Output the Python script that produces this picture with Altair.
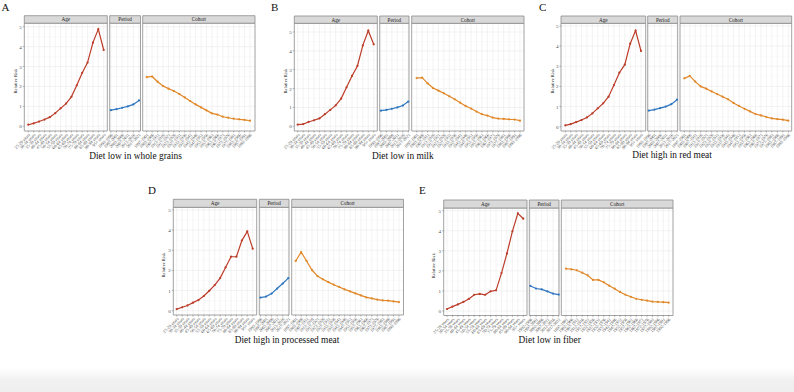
import altair as alt
import pandas as pd

# ---------------------------------------------------------------- categories
age_groups = [
    "25-29 years", "30-34 years", "35-39 years", "40-44 years", "45-49 years",
    "50-54 years", "55-59 years", "60-64 years", "65-69 years", "70-74 years",
    "75-79 years", "80-84 years", "85-89 years", "90-94 years", "95+ years",
]
periods = ["1992-1996", "1997-2001", "2002-2006", "2007-2011", "2012-2016", "2017-2021"]
cohorts = [
    "1897-1901", "1902-1906", "1907-1911", "1912-1916", "1917-1921",
    "1922-1926", "1927-1931", "1932-1936", "1937-1941", "1942-1946",
    "1947-1951", "1952-1956", "1957-1961", "1962-1966", "1967-1971",
    "1972-1976", "1977-1981", "1982-1986", "1987-1991", "1992-1996",
]

# ---------------------------------------------------------------- relative risks
whole_grains_age = [0.08, 0.15, 0.24, 0.34, 0.46, 0.66, 0.90, 1.14, 1.48, 2.06, 2.68, 3.20, 4.20, 4.88, 3.83]
whole_grains_period = [0.81, 0.86, 0.93, 1.00, 1.10, 1.30]
whole_grains_cohort = [2.47, 2.50, 2.24, 2.02, 1.89, 1.77, 1.62, 1.45, 1.27, 1.10,
                       0.95, 0.80, 0.65, 0.59, 0.48, 0.43, 0.38, 0.35, 0.32, 0.28]

milk_age = [0.09, 0.12, 0.23, 0.32, 0.42, 0.64, 0.87, 1.11, 1.47, 2.07, 2.67, 3.20, 4.29, 5.07, 4.35]
milk_period = [0.83, 0.87, 0.93, 1.00, 1.10, 1.31]
milk_cohort = [2.56, 2.58, 2.28, 2.03, 1.89, 1.75, 1.59, 1.43, 1.25, 1.08,
               0.94, 0.78, 0.64, 0.57, 0.46, 0.41, 0.39, 0.37, 0.36, 0.30]

red_meat_age = [0.07, 0.13, 0.23, 0.33, 0.46, 0.66, 0.91, 1.16, 1.49, 2.07, 2.68, 3.08, 4.12, 4.77, 3.76]
red_meat_period = [0.80, 0.85, 0.92, 1.00, 1.12, 1.34]
red_meat_cohort = [2.40, 2.52, 2.24, 2.00, 1.89, 1.75, 1.62, 1.49, 1.36, 1.18,
                   1.03, 0.89, 0.76, 0.63, 0.56, 0.48, 0.41, 0.38, 0.35, 0.30]

processed_meat_age = [0.08, 0.17, 0.26, 0.40, 0.53, 0.73, 0.99, 1.27, 1.62, 2.15, 2.68, 2.68, 3.48, 3.94, 3.08]
processed_meat_period = [0.65, 0.70, 0.85, 1.10, 1.35, 1.62]
processed_meat_cohort = [2.47, 2.91, 2.47, 2.02, 1.72, 1.56, 1.42, 1.29, 1.18, 1.06,
                         0.96, 0.86, 0.76, 0.66, 0.61, 0.55, 0.51, 0.50, 0.46, 0.43]

fiber_age = [0.10, 0.22, 0.33, 0.45, 0.60, 0.81, 0.85, 0.81, 0.98, 1.03, 1.89, 2.87, 3.97, 4.87, 4.60]
fiber_period = [1.25, 1.12, 1.08, 0.98, 0.87, 0.82]
fiber_cohort = [2.11, 2.08, 2.03, 1.91, 1.78, 1.55, 1.55, 1.43, 1.26, 1.11,
                0.95, 0.81, 0.71, 0.61, 0.56, 0.52, 0.47, 0.45, 0.44, 0.42]

y_ticks = [0, 1, 2, 3, 4, 5]
y_minor = [0.5, 1.5, 2.5, 3.5, 4.5]

# ---------------------------------------------------------------- styling
SERIF = "Liberation Serif"
COLORS = {"Age": "#BC3C29", "Period": "#2F77C0", "Cohort": "#E18727"}
BORDER = "#8c8c8c"
GRID = "#ebebeb"
GRID_MINOR = "#f4f4f4"

# Panel geometry of each small multiple (pixels on the 794 x 392 canvas).
# facet tuple: frame left, frame right, first category x, last category x
plots = [
    dict(letter="A", title="Diet low in whole grains",
         series=(whole_grains_age, whole_grains_period, whole_grains_cohort),
         Age=(24.3, 107.3, 28.3, 103.7), Period=(109.7, 140.5, 110.9, 139.0),
         Cohort=(142.7, 255.0, 146.7, 250.0), strip=(15.7, 23.2), bottom=131.0,
         y0=126.3, y5=26.7, ytitle_x=15.5, title_xy=(135.5, 159.3), letter_xy=(1.5, 11.0)),
    dict(letter="B", title="Diet low in milk",
         series=(milk_age, milk_period, milk_cohort),
         Age=(294.3, 377.3, 297.7, 373.7), Period=(379.7, 409.0, 380.9, 408.3),
         Cohort=(411.7, 524.0, 416.7, 520.0), strip=(16.0, 23.3), bottom=131.0,
         y0=126.3, y5=32.0, ytitle_x=285.5, title_xy=(402.8, 159.3), letter_xy=(271.0, 11.0)),
    dict(letter="C", title="Diet high in red meat",
         series=(red_meat_age, red_meat_period, red_meat_cohort),
         Age=(561.0, 645.7, 565.3, 641.0), Period=(647.7, 677.7, 648.8, 677.0),
         Cohort=(680.0, 791.7, 684.3, 788.3), strip=(16.0, 23.3), bottom=131.0,
         y0=126.7, y5=26.0, ytitle_x=552.5, title_xy=(672.0, 157.5), letter_xy=(539.0, 11.0)),
    dict(letter="D", title="Diet high in processed meat",
         series=(processed_meat_age, processed_meat_period, processed_meat_cohort),
         Age=(173.3, 256.7, 176.7, 252.7), Period=(259.3, 289.0, 260.4, 288.3),
         Cohort=(291.7, 403.5, 295.7, 399.0), strip=(199.3, 207.3), bottom=315.0,
         y0=310.7, y5=210.0, ytitle_x=164.0, title_xy=(287.0, 343.3), letter_xy=(148.0, 194.0)),
    dict(letter="E", title="Diet low in fiber",
         series=(fiber_age, fiber_period, fiber_cohort),
         Age=(443.7, 527.0, 447.0, 523.3), Period=(529.3, 559.0, 530.4, 558.7),
         Cohort=(561.3, 673.0, 566.0, 668.7), strip=(200.0, 208.0), bottom=315.5,
         y0=311.0, y5=210.7, ytitle_x=434.3, title_xy=(549.7, 343.3), letter_xy=(419.0, 194.0)),
]

facets = [("Age", age_groups), ("Period", periods), ("Cohort", cohorts)]

back, front = [], []
frame_rows, strip_rows, title_rows, letter_rows, ytitle_rows = [], [], [], [], []

major_df = pd.DataFrame({"v": y_ticks})
minor_df = pd.DataFrame({"v": y_minor})

for p in plots:
    y_scale = alt.Scale(domain=[0, 5], range=[p["y0"], p["y5"]], nice=False, zero=False)
    s_top, s_bot = p["strip"]
    bottom = p["bottom"]

    for (facet, labels), values in zip(facets, p["series"]):
        fx0, fx1, px0, px1 = p[facet]
        x_scale = alt.Scale(type="point", domain=labels, range=[px0, px1], padding=0)
        X = alt.X("label:N", scale=x_scale, axis=None)
        Y = alt.Y("rr:Q", scale=y_scale, axis=None)
        df = pd.DataFrame({"label": labels, "rr": values, "idx": list(range(len(labels)))})

        frame_rows.append(dict(x0=fx0, x1=fx1, y0=s_bot, y1=bottom))
        strip_rows.append(dict(x0=fx0, x1=fx1, y0=s_top, y1=s_bot,
                               xm=(fx0 + fx1) / 2, ym=(s_top + s_bot) / 2, name=facet))

        # panel grid
        back.append(alt.Chart(minor_df).mark_rule(color=GRID_MINOR, strokeWidth=0.4).encode(
            x=alt.value(fx0), x2=alt.value(fx1), y=alt.Y("v:Q", scale=y_scale, axis=None)))
        back.append(alt.Chart(major_df).mark_rule(color=GRID, strokeWidth=0.6).encode(
            x=alt.value(fx0), x2=alt.value(fx1), y=alt.Y("v:Q", scale=y_scale, axis=None)))
        back.append(alt.Chart(df).mark_rule(color=GRID, strokeWidth=0.6).encode(
            x=X, y=alt.value(s_bot), y2=alt.value(bottom)))

        # the estimate curve
        front.append(alt.Chart(df).mark_line(
            color=COLORS[facet], strokeWidth=1.2,
            point=alt.OverlayMarkDef(color=COLORS[facet], filled=True, size=5, opacity=1),
        ).encode(x=X, y=Y, order="idx:Q"))

        # x axis ticks and rotated labels
        front.append(alt.Chart(df).mark_rule(color="#555555", strokeWidth=0.4).encode(
            x=X, y=alt.value(bottom), y2=alt.value(bottom + 1.6)))
        front.append(alt.Chart(df).mark_text(
            angle=315, align="right", baseline="top", font=SERIF, fontSize=4.3, color="#4d4d4d",
        ).encode(x=X, y=alt.value(bottom + 2.0), text="label:N"))

    # y axis on the Age panel
    ax0 = p["Age"][0]
    front.append(alt.Chart(major_df).mark_rule(color="#555555", strokeWidth=0.4).encode(
        x=alt.value(ax0 - 1.6), x2=alt.value(ax0), y=alt.Y("v:Q", scale=y_scale, axis=None)))
    front.append(alt.Chart(major_df).mark_text(
        align="right", baseline="middle", font=SERIF, fontSize=5.0, color="#4d4d4d",
    ).encode(x=alt.value(ax0 - 2.6), y=alt.Y("v:Q", scale=y_scale, axis=None), text="v:Q"))

    ytitle_rows.append(dict(x=p["ytitle_x"], y=(s_bot + bottom) / 2 + 4, text="Relative Risk"))
    title_rows.append(dict(x=p["title_xy"][0], y=p["title_xy"][1], text=p["title"]))
    letter_rows.append(dict(x=p["letter_xy"][0], y=p["letter_xy"][1], text=p["letter"]))


def px(field):
    return alt.X(f"{field}:Q", scale=None, axis=None)


def py(field):
    return alt.Y(f"{field}:Q", scale=None, axis=None)


frames = alt.Chart(pd.DataFrame(frame_rows)).mark_rect(
    fillOpacity=0, stroke=BORDER, strokeWidth=0.8
).encode(x=px("x0"), x2="x1:Q", y=py("y0"), y2="y1:Q")

strips = alt.Chart(pd.DataFrame(strip_rows)).mark_rect(
    fill="#d9d9d9", stroke=BORDER, strokeWidth=0.8
).encode(x=px("x0"), x2="x1:Q", y=py("y0"), y2="y1:Q")

strip_text = alt.Chart(pd.DataFrame(strip_rows)).mark_text(
    font=SERIF, fontSize=5.2, color="#1a1a1a", baseline="middle", align="center"
).encode(x=px("xm"), y=py("ym"), text="name:N")

y_titles = alt.Chart(pd.DataFrame(ytitle_rows)).mark_text(
    font=SERIF, fontSize=4.6, color="#111111", angle=270, baseline="middle", align="center"
).encode(x=px("x"), y=py("y"), text="text:N")

titles = alt.Chart(pd.DataFrame(title_rows)).mark_text(
    font=SERIF, fontSize=9.4, color="#111111", baseline="alphabetic", align="center"
).encode(x=px("x"), y=py("y"), text="text:N")

letters = alt.Chart(pd.DataFrame(letter_rows)).mark_text(
    font=SERIF, fontSize=11, color="#111111", baseline="alphabetic", align="left"
).encode(x=px("x"), y=py("y"), text="text:N")

# faint shading along the lower edge of the figure
shade = alt.Chart(pd.DataFrame({"k": [0]})).mark_rect(
    fill=alt.Gradient(
        gradient="linear", x1=0, x2=0, y1=0, y2=1,
        stops=[alt.GradientStop(color="#ffffff", offset=0),
               alt.GradientStop(color="#f1f1f1", offset=0.5),
               alt.GradientStop(color="#eeeeee", offset=1)],
    )
).encode(x=alt.value(0), x2=alt.value(794), y=alt.value(368), y2=alt.value(392))

chart = alt.layer(
    shade, *back, frames, strips, strip_text, *front, y_titles, titles, letters
).resolve_scale(x="independent", y="independent").properties(
    width=794, height=392, padding=0, autosize=alt.AutoSizeParams(type="none"),
    background="white",
).configure_view(stroke=None)

chart.save("out.html", embed_options={"renderer": "svg", "actions": False})
